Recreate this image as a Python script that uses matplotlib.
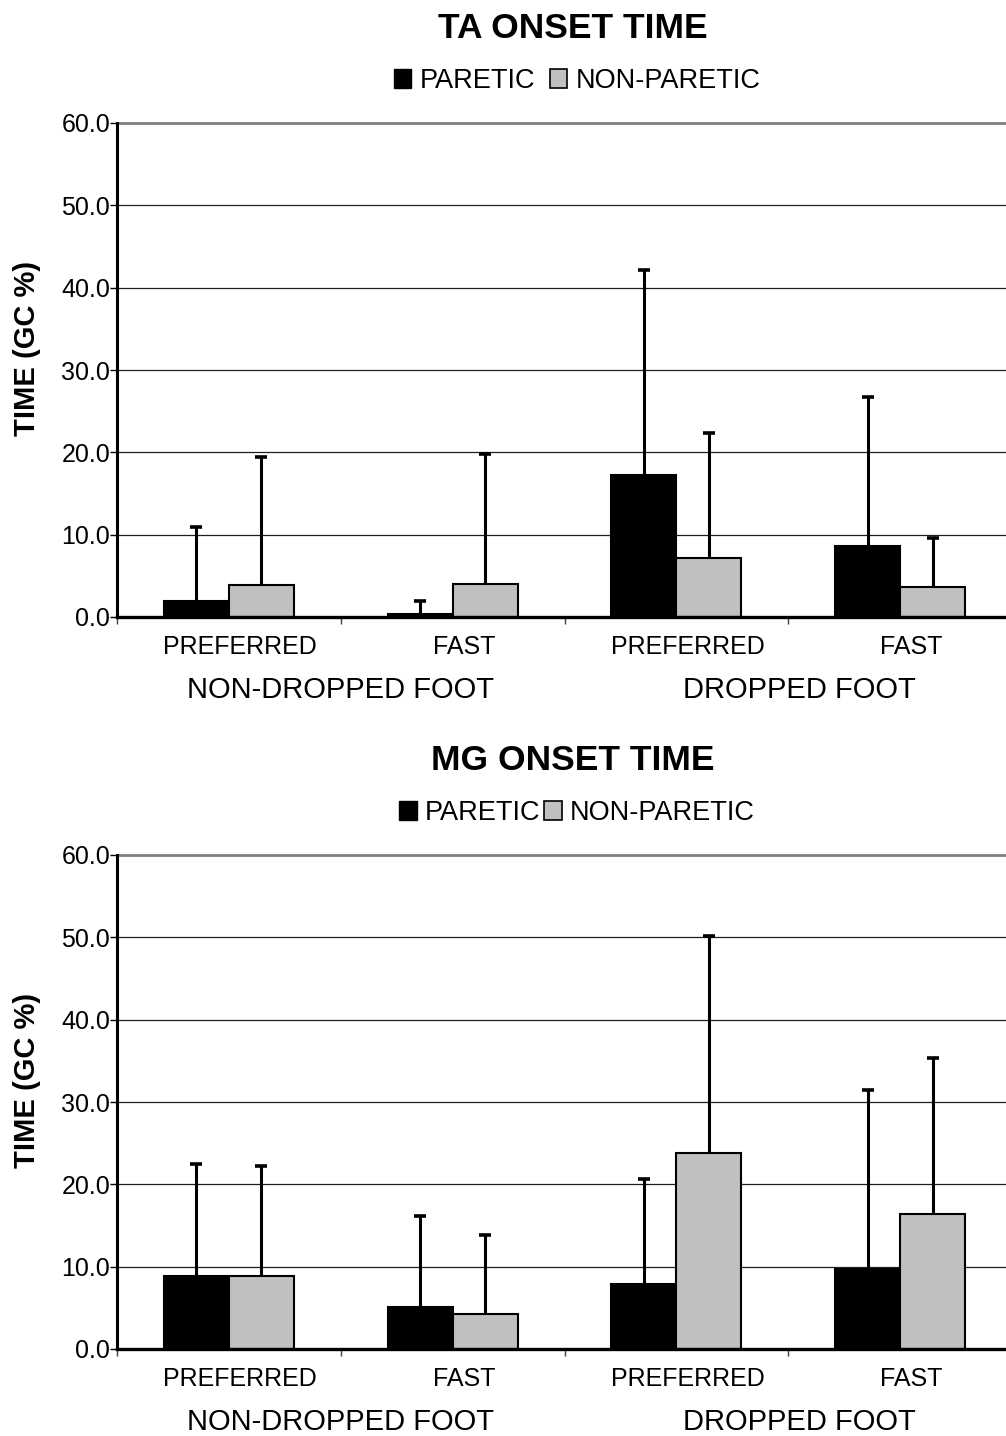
import matplotlib
matplotlib.use("Agg")
import matplotlib.pyplot as plt
from matplotlib.patches import Patch
import numpy as np

plt.rcParams['font.family'] = ['Liberation Sans', 'DejaVu Sans']

# Walking-speed conditions and foot groups
speeds = ["PREFERRED", "FAST", "PREFERRED", "FAST"]
groups = ["NON-DROPPED FOOT", "DROPPED FOOT"]
series = ["PARETIC", "NON-PARETIC"]
yticks = [0, 10, 20, 30, 40, 50, 60]

# Tibialis anterior onset time (% gait cycle): mean and SD
ta_paretic_mean = [1.9, 0.4, 17.2, 8.6]
ta_paretic_sd = [9.0, 1.5, 24.9, 18.1]
ta_nonparetic_mean = [3.9, 4.0, 7.2, 3.6]
ta_nonparetic_sd = [15.5, 15.8, 15.2, 6.0]

# Medial gastrocnemius onset time (% gait cycle): mean and SD
mg_paretic_mean = [8.9, 5.1, 7.9, 9.7]
mg_paretic_sd = [13.6, 11.0, 12.8, 21.7]
mg_nonparetic_mean = [8.9, 4.3, 23.8, 16.4]
mg_nonparetic_sd = [13.3, 9.5, 26.4, 19.0]

W, H = 1006, 1436
fig = plt.figure(figsize=(W / 100, H / 100), dpi=100)

PARETIC_COLOR = "black"
NONPARETIC_COLOR = "#c0c0c0"
BAR_W = 0.29


def upper_error(ax, xs, mean, sd):
    """One-sided (upper) SD whiskers with a cap only at the top."""
    mean = np.asarray(mean)
    top = mean + np.asarray(sd)
    ax.vlines(xs, mean, top, color="black", linewidth=2.2, zorder=2)
    ax.plot(xs, top, linestyle="none", marker="_", markersize=9,
            markeredgewidth=2.6, color="black", zorder=2)


def panel(top_px, title, p_mean, p_sd, n_mean, n_sd, legend_gap):
    bottom_px = top_px + 494
    left_px, right_px = 117, 1012
    ax = fig.add_axes([left_px / W, 1 - bottom_px / H,
                       (right_px - left_px) / W, 494 / H])
    x = np.arange(len(speeds))
    ax.bar(x - BAR_W / 2, p_mean, BAR_W, color=PARETIC_COLOR,
           edgecolor="black", linewidth=1.5, zorder=3)
    ax.bar(x + BAR_W / 2, n_mean, BAR_W, color=NONPARETIC_COLOR,
           edgecolor="black", linewidth=1.5, zorder=3)
    upper_error(ax, x - BAR_W / 2, p_mean, p_sd)
    upper_error(ax, x + BAR_W / 2, n_mean, n_sd)

    ax.set_xlim(-0.5, len(speeds) - 0.5)
    ax.set_ylim(0, 60)
    ax.set_yticks(yticks)
    ax.set_yticklabels([f"{v:.1f}" for v in yticks], fontsize=18)
    ax.tick_params(axis="y", direction="out", length=5, width=1, pad=0)
    ax.set_xticks(np.arange(-0.5, len(speeds) - 0.4, 1.0))
    ax.set_xticklabels([])
    ax.tick_params(axis="x", direction="out", length=5, width=1, color="#404040")
    for v in yticks[1:-1]:
        ax.axhline(v, color="#202020", linewidth=0.9, zorder=1)
    ax.axhline(60, color="#808080", linewidth=2, zorder=1, clip_on=False)
    for s in ["top", "right"]:
        ax.spines[s].set_visible(False)
    ax.spines["left"].set_linewidth(2.2)
    ax.spines["bottom"].set_linewidth(2.4)
    ax.spines["bottom"].set_zorder(4)

    # Speed labels and foot group labels below the axis
    for xi, lab in zip(x, speeds):
        ax.text(xi + 0.05, -3.65, lab, ha="center", va="center", fontsize=18,
                clip_on=False)
    ax.text(0.5, -8.85, groups[0], ha="center", va="center", fontsize=21,
            clip_on=False)
    ax.text(2.55, -8.85, groups[1], ha="center", va="center", fontsize=21,
            clip_on=False)

    # Title and legend above the axes
    fig.text(573 / W, 1 - (top_px - 95) / H, title, ha="center", va="center",
             fontsize=25.5, fontweight="bold")
    handles = [Patch(facecolor=PARETIC_COLOR, edgecolor="black", linewidth=1),
               Patch(facecolor=NONPARETIC_COLOR, edgecolor="black", linewidth=1.2)]
    fig.legend(handles, series, loc="center", ncol=2, frameon=False,
               bbox_to_anchor=(577 / W, 1 - (top_px - 42) / H),
               fontsize=19.5, handlelength=0.65, handleheight=0.65,
               handletextpad=0.3, columnspacing=legend_gap, borderpad=0)

    fig.text(27 / W, 1 - (top_px + 225) / H, "TIME (GC %)", rotation=90,
             ha="center", va="center", fontsize=21, fontweight="bold")
    return ax


panel(123, "TA ONSET TIME", ta_paretic_mean, ta_paretic_sd,
      ta_nonparetic_mean, ta_nonparetic_sd, 0.55)
panel(855, "MG ONSET TIME", mg_paretic_mean, mg_paretic_sd,
      mg_nonparetic_mean, mg_nonparetic_sd, 0.15)

fig.savefig("out.png", dpi=100)
